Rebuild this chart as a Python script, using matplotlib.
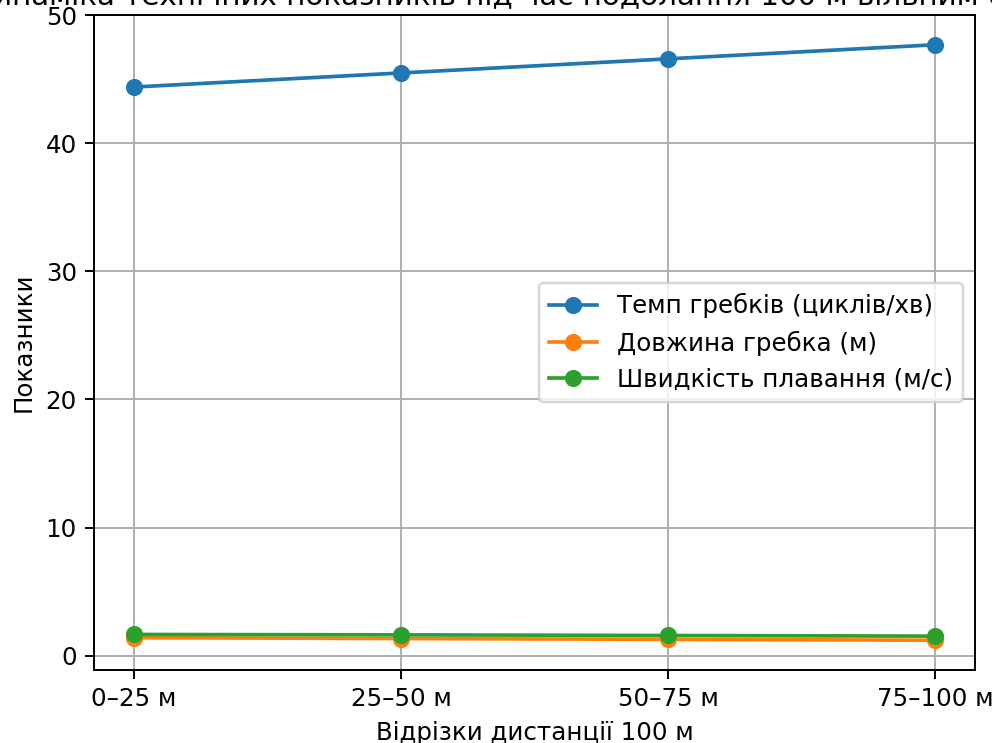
import matplotlib
matplotlib.use("Agg")
import matplotlib.pyplot as plt

segments = ["0–25 м", "25–50 м", "50–75 м", "75–100 м"]
stroke_rate = [44.4, 45.5, 46.6, 47.7]
stroke_length = [1.40, 1.33, 1.27, 1.20]
swim_speed = [1.65, 1.62, 1.57, 1.52]

labels = ["Темп гребків (циклів/хв)", "Довжина гребка (м)", "Швидкість плавання (м/с)"]

DPI = 176
fig = plt.figure(figsize=(992 / DPI, 743 / DPI), dpi=DPI)
ax = fig.add_axes([94/992, 1-670/743, (975-94)/992, (670-15)/743])

ax.plot(segments, stroke_rate, marker="o", label=labels[0])
ax.plot(segments, stroke_length, marker="o", label=labels[1])
ax.plot(segments, swim_speed, marker="o", label=labels[2])

ax.set_title("Динаміка технічних показників під час подолання 100 м вільним стилем", pad=4.6)
ax.set_xlabel("Відрізки дистанції 100 м")
ax.set_ylabel("Показники")
ax.grid(True)
ax.legend(loc="center right")

fig.savefig("out.png", dpi=DPI)
